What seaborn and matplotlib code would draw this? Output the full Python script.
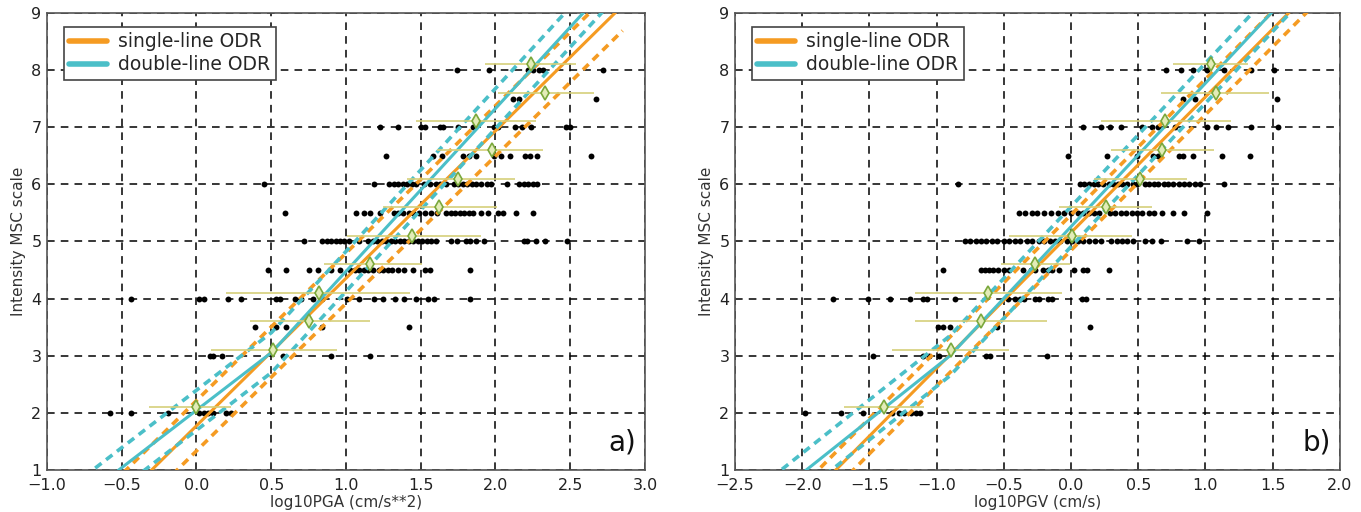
import numpy as np
import pandas as pd
import matplotlib
matplotlib.use("Agg")
import matplotlib.pyplot as plt
import seaborn as sns
from matplotlib.lines import Line2D

# ---------------------------------------------------------------------
# observations, panel a) log10 PGA per MSC intensity level
# ---------------------------------------------------------------------
pga_i2 = [-0.58, -0.44, -0.19, 0.02, 0.05, 0.08, 0.11, 0.20, 0.23]
pga_i3 = [0.09, 0.11, 0.17, 0.58, 0.90, 1.16]
pga_i35 = [0.39, 0.53, 0.60, 0.84, 1.42]
pga_i4 = [-0.44, 0.02, 0.05, 0.21, 0.30, 0.53, 0.56, 0.66, 0.70, 0.78, 0.84,
          1.01, 1.09, 1.19, 1.25, 1.33, 1.39, 1.47, 1.55, 1.59, 1.83]
pga_i45 = [0.48, 0.60, 0.75, 0.81, 0.90, 0.96, 1.03, 1.06, 1.09, 1.12, 1.15,
           1.18, 1.22, 1.25, 1.28, 1.31, 1.35, 1.39, 1.45, 1.53, 1.56, 1.83]
pga_i5 = [0.72, 0.84, 0.87, 0.90, 0.93, 0.96, 0.99, 1.02, 1.09, 1.15, 1.18,
          1.21, 1.24, 1.27, 1.30, 1.33, 1.36, 1.39, 1.42, 1.45, 1.48, 1.51,
          1.54, 1.57, 1.60, 1.70, 1.74, 1.80, 1.83, 1.87, 1.92, 2.19, 2.21,
          2.27, 2.33, 2.48]
pga_i55 = [0.59, 1.07, 1.12, 1.16, 1.23, 1.32, 1.35, 1.38, 1.42, 1.45, 1.49,
           1.53, 1.57, 1.61, 1.67, 1.70, 1.73, 1.76, 1.79, 1.82, 1.85, 1.90,
           1.95, 2.02, 2.05, 2.14, 2.25]
pga_i6 = [0.45, 1.19, 1.29, 1.32, 1.35, 1.38, 1.41, 1.44, 1.47, 1.52, 1.56,
          1.60, 1.63, 1.67, 1.72, 1.75, 1.78, 1.81, 1.84, 1.87, 1.90, 1.94,
          1.97, 2.08, 2.16, 2.19, 2.22, 2.25, 2.28]
pga_i65 = [1.27, 1.58, 1.64, 1.78, 1.82, 1.87, 1.99, 2.04, 2.10, 2.20, 2.23,
           2.28, 2.64]
pga_i7 = [1.23, 1.35, 1.50, 1.53, 1.63, 1.65, 1.75, 1.85, 1.99, 2.02, 2.13,
          2.18, 2.24, 2.47, 2.50]
pga_i75 = [2.12, 2.16, 2.67]
pga_i8 = [1.74, 1.96, 2.22, 2.25, 2.29, 2.32, 2.72]

# ---------------------------------------------------------------------
# observations, panel b) log10 PGV per MSC intensity level
# ---------------------------------------------------------------------
pgv_i2 = [-1.98, -1.71, -1.55, -1.33, -1.28, -1.24, -1.19, -1.15, -1.12]
pgv_i3 = [-1.47, -1.10, -1.06, -0.98, -0.63, -0.60, -0.18]
pgv_i35 = [-0.99, -0.95, -0.90, -0.55, 0.14]
pgv_i4 = [-1.77, -1.51, -1.35, -1.20, -1.10, -1.07, -0.86, -0.47, -0.42,
          -0.38, -0.35, -0.27, -0.24, -0.17, -0.14, 0.08, 0.11]
pgv_i45 = [-0.95, -0.67, -0.64, -0.61, -0.58, -0.54, -0.50, -0.46, -0.36,
           -0.30, -0.27, -0.21, -0.17, -0.14, -0.09, 0.02, 0.09, 0.12, 0.28]
pgv_i5 = [-0.79, -0.75, -0.71, -0.67, -0.63, -0.59, -0.55, -0.50, -0.46,
          -0.42, -0.38, -0.33, -0.29, -0.24, -0.20, -0.16, -0.12, -0.08,
          -0.03, 0.01, 0.05, 0.09, 0.13, 0.18, 0.22, 0.30, 0.34, 0.38, 0.42,
          0.46, 0.55, 0.60, 0.67, 0.86, 0.95]
pgv_i55 = [-0.39, -0.34, -0.29, -0.25, -0.20, -0.15, -0.10, -0.05, 0.00,
           0.05, 0.09, 0.13, 0.17, 0.21, 0.29, 0.33, 0.37, 0.41, 0.45, 0.49,
           0.53, 0.58, 0.62, 0.68, 0.76, 0.84, 1.01]
pgv_i6 = [-0.84, 0.07, 0.10, 0.13, 0.17, 0.20, 0.24, 0.28, 0.31, 0.35, 0.38,
          0.42, 0.46, 0.49, 0.55, 0.58, 0.62, 0.65, 0.69, 0.72, 0.76, 0.80,
          0.84, 0.88, 0.92, 0.96, 1.14]
pgv_i65 = [-0.02, 0.27, 0.49, 0.61, 0.65, 0.80, 0.83, 0.91, 1.12, 1.33]
pgv_i7 = [0.09, 0.22, 0.29, 0.37, 0.53, 0.60, 0.65, 0.77, 1.01, 1.08, 1.17,
          1.34, 1.54]
pgv_i75 = [0.83, 0.92, 1.53]
pgv_i8 = [0.71, 0.82, 0.91, 1.01, 1.14, 1.34, 1.51]

levels = [2, 3, 3.5, 4, 4.5, 5, 5.5, 6, 6.5, 7, 7.5, 8]

# binned means (diamonds) with horizontal spread
mean_int = [2.1, 3.1, 3.6, 4.1, 4.6, 5.1, 5.6, 6.1, 6.6, 7.1, 7.6, 8.1]
pga_mean = [0.00, 0.51, 0.75, 0.82, 1.16, 1.44, 1.62, 1.75, 1.98, 1.87, 2.33, 2.24]
pga_lo = [-0.32, 0.10, 0.36, 0.20, 0.85, 1.01, 1.25, 1.41, 1.61, 1.47, 2.02, 1.93]
pga_hi = [0.23, 0.94, 1.16, 1.43, 1.51, 1.90, 2.01, 2.13, 2.32, 2.27, 2.66, 2.54]
pgv_mean = [-1.39, -0.89, -0.67, -0.62, -0.27, 0.01, 0.26, 0.51, 0.68, 0.70, 1.08, 1.04]
pgv_lo = [-1.69, -1.33, -1.16, -1.16, -0.52, -0.46, -0.09, 0.17, 0.30, 0.22, 0.67, 0.76]
pgv_hi = [-1.09, -0.46, -0.18, -0.07, -0.01, 0.45, 0.60, 0.86, 1.06, 1.19, 1.47, 1.32]

# fit parameters: single line (intercept, slope, band) and
# double line (knot x, knot I, lower slope, upper slope, band)
pga_single = (1.774, 2.58, 0.44)
pga_double = (0.50, 3.05, 2.01, 2.85, 0.35)
pga_xrange = (-0.75, 2.85)
pgv_single = (5.155, 2.374, 0.31)
pgv_double = (-0.90, 3.00, 1.87, 2.51, 0.35)
pgv_xrange = (-2.15, 1.78)

ORANGE = "#f59b22"
CYAN = "#4bbfc8"


def rows_to_frame(rows):
    return pd.DataFrame({
        "x": np.concatenate([np.asarray(r, float) for r in rows]),
        "I": np.concatenate([np.full(len(r), lv) for r, lv in zip(rows, levels)]),
    })


def draw_panel(ax, rows, mean_x, lo, hi, single, double, xrange, xlim,
               xticks, xlabel, tag):
    df = rows_to_frame(rows)
    sns.scatterplot(data=df, x="x", y="I", ax=ax, color="black", s=18,
                    marker="o", edgecolor="black", linewidth=0, zorder=3)

    xs = np.linspace(xrange[0], xrange[1], 300)
    a, b, band = single
    ys = a + b * xs
    ax.plot(xs, ys, color=ORANGE, lw=2.2, zorder=4)
    for sgn in (-1, 1):
        ax.plot(xs, ys + sgn * band, color=ORANGE, lw=2.6,
                ls=(0, (2.2, 1.6)), zorder=4)

    kx, ki, s1, s2, cband = double
    yd = np.where(xs < kx, ki + s1 * (xs - kx), ki + s2 * (xs - kx))
    ax.plot(xs, yd, color=CYAN, lw=2.2, zorder=4)
    for sgn in (-1, 1):
        ax.plot(xs, yd + sgn * cband, color=CYAN, lw=2.6,
                ls=(0, (2.2, 1.6)), zorder=4)

    mx = np.asarray(mean_x)
    ax.errorbar(mx, mean_int,
                xerr=[mx - np.asarray(lo), np.asarray(hi) - mx],
                fmt="none", ecolor="#d6cf7a", elinewidth=1.2, zorder=5)
    ax.plot(mx, mean_int, ls="none", marker="d", ms=7,
            mfc="#e3ecb8", mec="#7aa83c", mew=1.2, zorder=6)

    ax.set_xlim(*xlim)
    ax.set_ylim(1, 9)
    ax.set_xticks(xticks)
    ax.set_yticks(range(1, 10))
    ax.set_xticklabels([f"{t:.1f}".replace("-", "\u2212") for t in xticks])
    ax.grid(True, color="black", ls=(0, (5, 4)), lw=1.1, zorder=0)
    ax.set_axisbelow(True)
    ax.tick_params(direction="in", length=4, labelsize=11.5, colors="#222222")
    ax.tick_params(axis="x", pad=6)
    ax.tick_params(axis="y", pad=4)
    for sp in ax.spines.values():
        sp.set_color("#555555")
        sp.set_linewidth(1.2)
    ax.set_xlabel(xlabel, fontsize=11, color="#333333", labelpad=1)
    ax.set_ylabel("Intensity MSC scale", fontsize=11, color="#333333", labelpad=4)
    ax.text(0.985, 0.03, tag, transform=ax.transAxes, ha="right", va="bottom",
            fontsize=20, color="#111111")

    handles = [Line2D([], [], color=ORANGE, lw=4),
               Line2D([], [], color=CYAN, lw=4)]
    leg = ax.legend(handles, ["single-line ODR", "double-line ODR"],
                    loc="upper left", fontsize=13.5, frameon=True,
                    fancybox=False, framealpha=1, edgecolor="#444444",
                    handlelength=2.0, handletextpad=0.6, borderpad=0.3,
                    labelspacing=0.2, bbox_to_anchor=(0.012, 0.99))
    leg.get_frame().set_linewidth(1.2)


sns.set_style("white")
plt.rcParams["font.family"] = ["DejaVu Sans"]

fig = plt.figure(figsize=(13.61, 5.12), dpi=100)
ax_a = fig.add_axes([0.0345, 0.082, 0.4394, 0.893])
ax_b = fig.add_axes([0.540, 0.082, 0.4445, 0.893])

draw_panel(ax_a,
           [pga_i2, pga_i3, pga_i35, pga_i4, pga_i45, pga_i5,
            pga_i55, pga_i6, pga_i65, pga_i7, pga_i75, pga_i8],
           pga_mean, pga_lo, pga_hi, pga_single, pga_double, pga_xrange,
           (-1.0, 3.0), np.arange(-1.0, 3.01, 0.5), "log10PGA (cm/s**2)", "a)")
draw_panel(ax_b,
           [pgv_i2, pgv_i3, pgv_i35, pgv_i4, pgv_i45, pgv_i5,
            pgv_i55, pgv_i6, pgv_i65, pgv_i7, pgv_i75, pgv_i8],
           pgv_mean, pgv_lo, pgv_hi, pgv_single, pgv_double, pgv_xrange,
           (-2.5, 2.0), np.arange(-2.5, 2.01, 0.5), "log10PGV (cm/s)", "b)")

fig.savefig("out.png", dpi=100)
